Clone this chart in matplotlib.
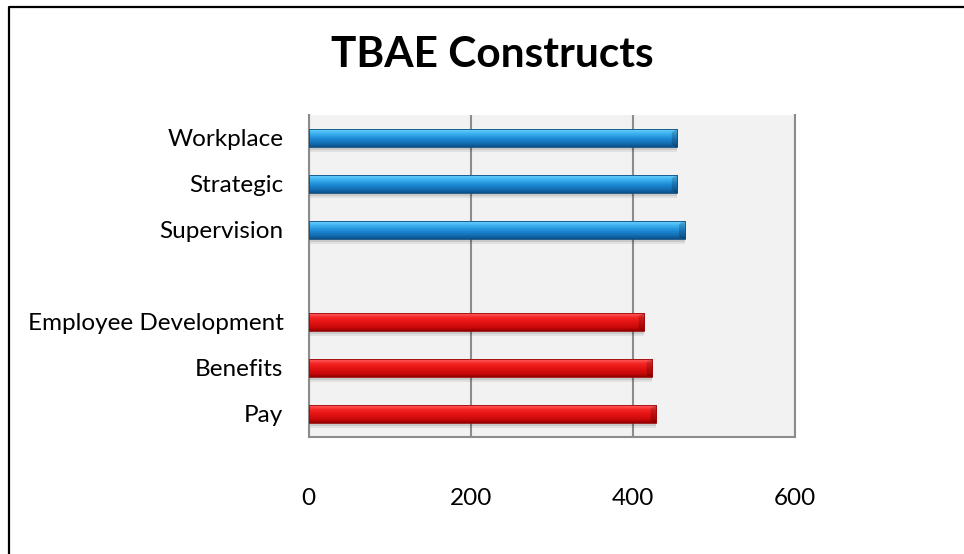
import numpy as np
import matplotlib
matplotlib.use("Agg")
import matplotlib.pyplot as plt
from matplotlib.colors import LinearSegmentedColormap
from matplotlib.lines import Line2D

# chart data
categories = ["Pay", "Benefits", "Employee Development", "",
              "Supervision", "Strategic", "Workplace"]
red_values = [429, 424, 414, np.nan, np.nan, np.nan, np.nan]
blue_values = [np.nan, np.nan, np.nan, np.nan, 464, 455, 455]
x_ticks = [0, 200, 400, 600]
title = "TBAE Constructs"

plt.rcParams['font.family'] = ['Lato', 'DejaVu Sans']

W, H = 964, 554
fig = plt.figure(figsize=(W / 100, H / 100), dpi=100)
fig.patch.set_facecolor('white')
ax = fig.add_axes([308.5 / W, 1 - 437 / H, (795 - 308.5) / W, (437 - 115) / H])
ax.set_facecolor('#f2f2f2')

blue_cmap = LinearSegmentedColormap.from_list(
    'blue3d', [(0.0, '#3a9ee0'), (0.08, '#66cdfc'), (0.3, '#3bb0ef'),
               (0.55, '#1f8bd6'), (0.85, '#1269ad'), (1.0, '#0c4f85')])
red_cmap = LinearSegmentedColormap.from_list(
    'red3d', [(0.0, '#f04040'), (0.08, '#ff5a5a'), (0.3, '#f42424'),
              (0.55, '#e31212'), (0.85, '#c40808'), (1.0, '#8e0000')])

y = np.arange(len(categories))
bar_h = 0.41
grad = np.linspace(0, 1, 64).reshape(-1, 1)

for values, cmap, edge in [(red_values, red_cmap, '#9a0a0a'),
                           (blue_values, blue_cmap, '#0d4d80')]:
    # soft drop shadow
    ax.barh(y - 0.07, values, height=bar_h + 0.04, color='black',
            alpha=0.07, zorder=2, linewidth=0)
    ax.barh(y - 0.05, values, height=bar_h, color='black',
            alpha=0.10, zorder=2, linewidth=0)
    bars = ax.barh(y, values, height=bar_h, color='none', edgecolor=edge,
                   linewidth=0.6, zorder=4)
    for b in bars:
        if not np.isfinite(b.get_width()):
            continue
        x0, y0 = b.get_x(), b.get_y()
        w, h = b.get_width(), b.get_height()
        im = ax.imshow(grad, cmap=cmap, aspect='auto', origin='upper',
                       extent=(x0, x0 + w, y0, y0 + h), zorder=3,
                       interpolation='bilinear')
        im.set_clip_path(b)
        # darker bevel at the right end
        ax.fill([x0 + w - 7, x0 + w, x0 + w, x0 + w - 7],
                [y0 + h * 0.8, y0 + h, y0, y0 + h * 0.15],
                color='black', alpha=0.18, zorder=3.5, linewidth=0)

ax.set_xlim(x_ticks[0], x_ticks[-1])
ax.set_ylim(-0.5, len(categories) - 0.5)
ax.set_xticks(x_ticks)
ax.set_xticklabels([str(t) for t in x_ticks])
ax.set_yticks(y)
ax.set_yticklabels(categories)
ax.tick_params(axis='both', length=0, labelsize=17.5, colors='black')
ax.tick_params(axis='y', pad=18)
ax.tick_params(axis='x', pad=37)

ax.grid(axis='x', color='#8c8c8c', linewidth=1.5, zorder=1)
ax.set_axisbelow(True)
for side in ['left', 'bottom', 'right']:
    ax.spines[side].set_color('#8c8c8c')
    ax.spines[side].set_linewidth(1.5)
ax.spines['top'].set_visible(False)

fig.text(492 / W, 1 - 55 / H, title, ha='center', va='center',
         fontsize=30.5, fontweight='bold')

# outer frame (only left and top visible in the reference)
fig.add_artist(Line2D([8.5 / W, 8.5 / W, 1.0], [0.0, 1 - 6.5 / H, 1 - 6.5 / H],
                      transform=fig.transFigure, color='black', linewidth=1.6))

fig.savefig('out.png', dpi=100)
